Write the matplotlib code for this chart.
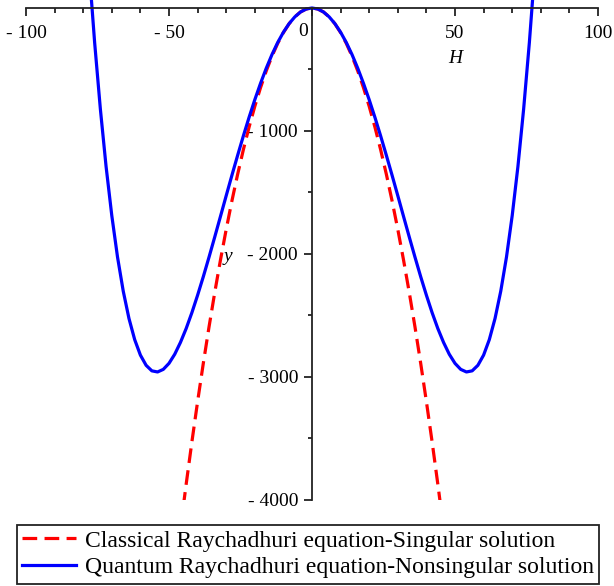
import matplotlib
matplotlib.use("Agg")
import matplotlib.pyplot as plt
from matplotlib.ticker import FixedLocator, FixedFormatter, MultipleLocator
import matplotlib.transforms as mtransforms

plt.rcParams['font.family'] = ['Liberation Serif', 'DejaVu Serif']
plt.rcParams['axes.unicode_minus'] = False

# ---- data ----
H_quantum = list(range(-78, 79, 2))
y_quantum = [337, -281, -821, -1289, -1688, -2025, -2302, -2524, -2696, -2822,
             -2905, -2950, -2959, -2938, -2889, -2815, -2719, -2606, -2477, -2335,
             -2184, -2025, -1861, -1694, -1526, -1360, -1198, -1040, -889, -746,
             -613, -490, -379, -281, -197, -127, -72, -32, -8, 0,
             -8, -32, -72, -127, -197, -281, -379, -490, -613, -746,
             -889, -1040, -1198, -1360, -1526, -1694, -1861, -2025, -2184, -2335,
             -2477, -2606, -2719, -2815, -2889, -2938, -2959, -2950, -2905, -2822,
             -2696, -2524, -2302, -2025, -1688, -1289, -821, -281, 337]

H_classical = list(range(-46, 47, 2))
y_classical = [-4232, -3872, -3528, -3200, -2888, -2592, -2312, -2048, -1800, -1568,
               -1352, -1152, -968, -800, -648, -512, -392, -288, -200, -128,
               -72, -32, -8, 0, -8, -32, -72, -128, -200, -288,
               -392, -512, -648, -800, -968, -1152, -1352, -1568, -1800, -2048,
               -2312, -2592, -2888, -3200, -3528, -3872, -4232]

x_ticks = [-100, -50, 0, 50, 100]
x_ticklabels = ['- 100', '- 50', '', '50', '100']
y_ticks = [-4000, -3000, -2000, -1000]
y_ticklabels = ['- 4000', '- 3000', '- 2000', '- 1000']

label_classical = 'Classical Raychadhuri equation-Singular solution'
label_quantum = 'Quantum Raychadhuri equation-Nonsingular solution'

W, Hpx = 614, 586
fig = plt.figure(figsize=(W / 100, Hpx / 100), dpi=100)
ax = fig.add_axes([26 / W, 1 - 500 / Hpx, (598 - 26) / W, 500 / Hpx])
ax.set_xlim(-100, 100)
ax.set_ylim(-4000, 65)

l1, = ax.plot(H_classical, y_classical, color='#ff0000', lw=2.3,
              dashes=(4.6, 2.3), label=label_classical)
l2, = ax.plot(H_quantum, y_quantum, color='#0000ff', lw=2.3, label=label_quantum)

axc = '#222222'
for s in ['top', 'right']:
    ax.spines[s].set_visible(False)
ax.spines['left'].set_position(('data', 0))
ax.spines['bottom'].set_position(('data', 0))
ax.spines['left'].set_bounds(-4000, 0)
ax.spines['left'].set_color(axc)
ax.spines['bottom'].set_color(axc)
ax.spines['left'].set_linewidth(1.3)
ax.spines['bottom'].set_linewidth(1.3)

ax.xaxis.set_major_locator(FixedLocator(x_ticks))
ax.xaxis.set_major_formatter(FixedFormatter(x_ticklabels))
ax.xaxis.set_minor_locator(MultipleLocator(10))
ax.yaxis.set_major_locator(FixedLocator(y_ticks))
ax.yaxis.set_major_formatter(FixedFormatter(y_ticklabels))
ax.yaxis.set_minor_locator(FixedLocator([-3500, -2500, -1500, -500]))

ax.tick_params(axis='x', which='major', direction='out', length=6, width=1.3,
               color=axc, labelsize=14, pad=6)
ax.tick_params(axis='x', which='minor', direction='out', length=3.8, width=1.3, color=axc)
ax.tick_params(axis='y', which='major', direction='out', length=6, width=1.3,
               color=axc, labelsize=14, pad=4)
ax.tick_params(axis='y', which='minor', direction='out', length=3.2, width=1.3, color=axc)

# "0" label shifted left of the vertical axis
off = mtransforms.offset_copy(ax.transData, fig=fig, x=-9, y=-24, units='dots')
ax.text(0, 0, '0', transform=off, ha='center', va='center', fontsize=14)

ax.text(50, -410, 'H', fontsize=14, style='italic', ha='center', va='center')
ax.text(-29.4, -2024, 'y', fontsize=14, style='italic', ha='center', va='center')

leg = fig.legend(handles=[l1, l2], loc='upper left',
                 bbox_to_anchor=(17 / W, 1 - 525 / Hpx), bbox_transform=fig.transFigure,
                 fontsize=17, frameon=True, fancybox=False, edgecolor='#222222',
                 framealpha=1, borderaxespad=0, handlelength=2.3, handletextpad=0.35,
                 labelspacing=0.22, borderpad=0.22)
leg.get_frame().set_linewidth(1.3)

fig.savefig('out.png', dpi=100)
